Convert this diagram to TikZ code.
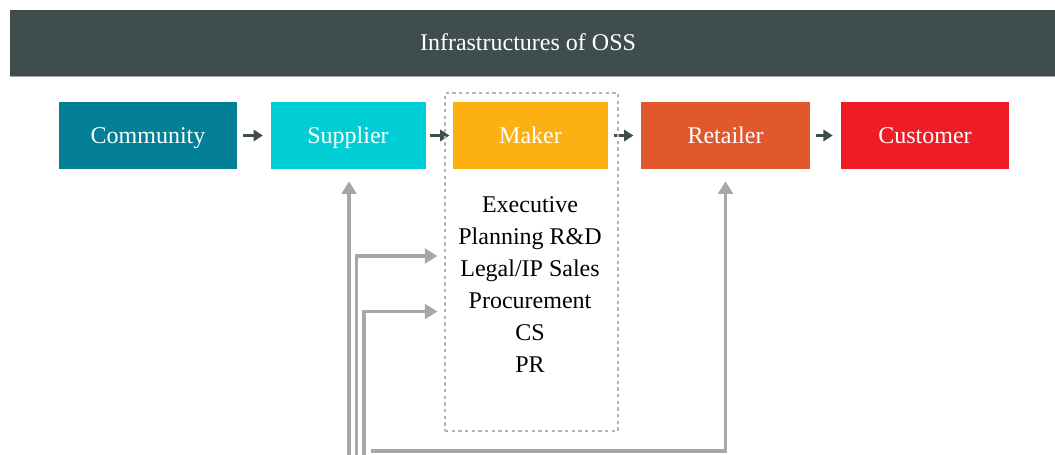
\documentclass[tikz,border=0pt]{standalone}
\usepackage{fontspec}
\setmainfont{Liberation Serif}
\usetikzlibrary{arrows.meta}
\definecolor{barcol}{RGB}{64,77,77}
\definecolor{commcol}{RGB}{3,127,150}
\definecolor{suppcol}{RGB}{0,206,212}
\definecolor{makecol}{RGB}{253,176,18}
\definecolor{retcol}{RGB}{224,88,44}
\definecolor{custcol}{RGB}{238,29,37}
\definecolor{feedcol}{RGB}{166,168,168}
\tikzset{
  stage/.style={minimum height=50.25pt,inner sep=0pt,text height=14pt,text depth=2pt,text=white,font=\fontsize{18}{22}\selectfont},
  flow/.style={-{Triangle[width=8.5pt,length=7pt]},line width=1.8pt,draw=barcol},
  feed/.style={-{Triangle[width=11pt,length=9.5pt]},line width=2.4pt,draw=feedcol},
  zone/.style={draw=gray!60,line width=1.3pt,dash pattern=on 2.5pt off 2.5pt,minimum width=129.75pt,minimum height=253.5pt,inner sep=0pt}
}
\begin{document}
\begin{tikzpicture}[x=0.75pt,y=-0.75pt]
   \useasboundingbox (0,0) rectangle (1055,454);
   % header
   \fill[barcol] (10,10) rectangle (1055,76);
   \draw[gray!70,line width=0.8pt] (10,76.5) -- (1055,76.5);
   \node[text=white,font=\fontsize{18}{22}\selectfont] (title) at (528,42) {Infrastructures of OSS};
   % chain
   \node[stage,fill=commcol,minimum width=133.5pt] (community) at (148,135.5) {Community};
   \node[stage,fill=suppcol,minimum width=116.25pt] (supplier) at (348,135.5) {Supplier};
   \node[stage,fill=makecol,minimum width=116.25pt] (maker) at (530.5,135.5) {Maker};
   \node[stage,fill=retcol,minimum width=126.75pt] (retailer) at (725.5,135.5) {Retailer};
   \node[stage,fill=custcol,minimum width=126pt] (customer) at (925,135.5) {Customer};
   \draw[flow,shorten <=4.5pt,shorten >=5.5pt] (community) -- (supplier);
   \draw[flow,shorten <=3.5pt,shorten >=2.5pt] (supplier) -- (maker);
   \draw[flow,shorten <=4.5pt,shorten >=5.5pt] (maker) -- (retailer);
   \draw[flow,shorten <=4pt,shorten >=6pt] (retailer) -- (customer);
   % maker departments
   \node[zone] (makerzone) at (531.5,262) {};
   \node[font=\fontsize{18}{24}\selectfont,align=center] (depts) at (530,285) {Executive\\Planning R\&D\\Legal/IP Sales\\Procurement\\CS\\PR};
   % feedback lines
   \coordinate (footA) at (349,456);
   \coordinate (footB) at (356.5,456);
   \coordinate (footC) at (364,456);
   \coordinate (footD) at (371,451);
   \draw[feed,shorten >=9pt] (footA) -- (supplier.south -| footA);
   \draw[feed,shorten >=5pt] (footB) |- (makerzone.west |- 0,256);
   \draw[feed,shorten >=5pt] (footC) |- (makerzone.west |- 0,311.5);
   \draw[feed,shorten >=9pt] (footD) -| (retailer.south);
\end{tikzpicture}
\end{document}
